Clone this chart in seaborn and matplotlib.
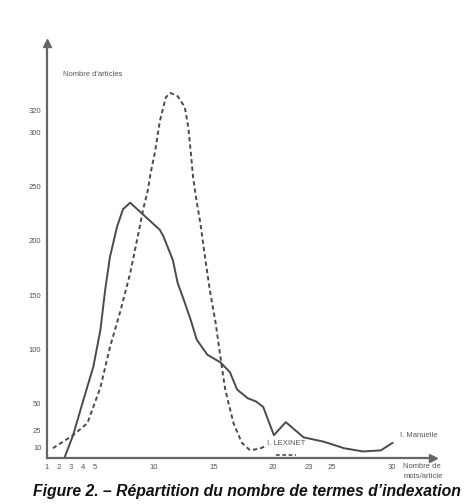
import matplotlib
matplotlib.use("Agg")
import matplotlib.pyplot as plt
import seaborn as sns
import pandas as pd

# ---- data ----
manuelle_x = [2.5, 3.2, 4.0, 4.9, 5.5, 5.9, 6.3, 6.9, 7.4, 8.0, 9.1, 9.7, 10.5, 10.8, 11.6, 12.0,
              12.5, 13.1, 13.6, 14.5, 15.6, 16.4, 17.0, 17.9, 18.6, 19.2, 20.1, 21.1, 22.6, 24.3,
              26.0, 27.6, 29.1, 30.1]
manuelle_y = [1, 21, 51, 84, 118, 155, 185, 213, 229, 235, 224, 218, 210, 204, 182, 161,
              146, 127, 109, 95, 88, 79, 63, 55, 52, 47, 21, 33, 19, 15,
              9, 6, 7, 14]

lexinet_x = [1.5, 3.2, 4.4, 5.5, 6.3, 7.2, 8.0, 8.7, 9.1, 9.5, 9.7, 10.1, 10.5, 11.0, 11.4, 12.0,
             12.6, 12.9, 13.1, 13.3, 13.6, 13.9, 14.3, 14.7, 15.2, 15.6, 16.0, 16.7, 17.4, 18.1,
             19.0, 19.4]
lexinet_y = [9, 21, 32, 65, 102, 136, 170, 207, 229, 247, 261, 282, 310, 332, 336, 333,
             323, 304, 282, 258, 236, 217, 185, 155, 124, 93, 63, 32, 14, 7,
             9, 11]

lexinet_tail_x = [20.3, 21.0, 22.0]
lexinet_tail_y = [3, 3, 3]

y_ticks = [10, 25, 50, 100, 150, 200, 250, 300, 320]
x_ticks = [1, 2, 3, 4, 5, 10, 15, 20, 23, 25, 30]

series_names = ["I. Manuelle", "I. LEXINET"]

df = pd.concat([
    pd.DataFrame({"mots": manuelle_x, "articles": manuelle_y, "serie": series_names[0]}),
    pd.DataFrame({"mots": lexinet_x, "articles": lexinet_y, "serie": series_names[1]}),
], ignore_index=True)

sns.set_style("white")
plt.rcParams["font.family"] = ["Liberation Sans", "DejaVu Sans"]

fig = plt.figure(figsize=(4.68, 5.04), dpi=100)
ax = fig.add_axes([0.1004, 0.0913, 0.825, 0.8234])

line_col = "#4a4a4a"
sns.lineplot(data=df, x="mots", y="articles", style="serie",
             dashes={series_names[0]: "", series_names[1]: (2.2, 1.6)},
             color=line_col, linewidth=1.4, legend=False, ax=ax, sort=False)
ax.plot(lexinet_tail_x, lexinet_tail_y, color=line_col, lw=1.2, dashes=(2.2, 1.6))

ax.set_xlim(1, 33.5)
ax.set_ylim(0, 382)

for s in ["top", "right"]:
    ax.spines[s].set_visible(False)
axis_col = "#666666"
for s in ["left", "bottom"]:
    ax.spines[s].set_color(axis_col)
    ax.spines[s].set_linewidth(1.6)

ax.set_xticks(x_ticks)
ax.set_xticklabels([str(v) for v in x_ticks])
ax.set_yticks(y_ticks)
ax.set_yticklabels([str(v) for v in y_ticks])
ax.tick_params(axis="both", direction="inout", length=5, width=1.0, color=axis_col,
               labelsize=5.5, labelcolor="#555555", pad=1.5)
ax.set_xlabel("")
ax.set_ylabel("")

# arrow heads
ax.plot([0], [1], marker="^", color=axis_col, markersize=6, transform=ax.transAxes, clip_on=False)
ax.plot([1], [0], marker=">", color=axis_col, markersize=6, transform=ax.transAxes, clip_on=False)

txt_col = "#555555"
ax.text(2.35, 353, "Nombre d'articles", fontsize=5.5, color=txt_col, va="center", ha="left")
ax.text(31.0, -5, "Nombre de\nmots/article", fontsize=5.5, color=txt_col, va="top", ha="left",
        linespacing=1.6, clip_on=False)
ax.text(30.7, 21, series_names[0], fontsize=5.5, color=txt_col, va="center", ha="left")
ax.text(19.5, 13, series_names[1], fontsize=5.5, color=txt_col, va="center", ha="left")

fig.text(0.528, 0.024, "Figure 2. \u2013 R\u00e9partition du nombre de termes d\u2019indexation",
         fontsize=11.3, fontweight="bold", fontstyle="italic", ha="center", va="center", color="#111111")

fig.savefig("out.png", dpi=100)
